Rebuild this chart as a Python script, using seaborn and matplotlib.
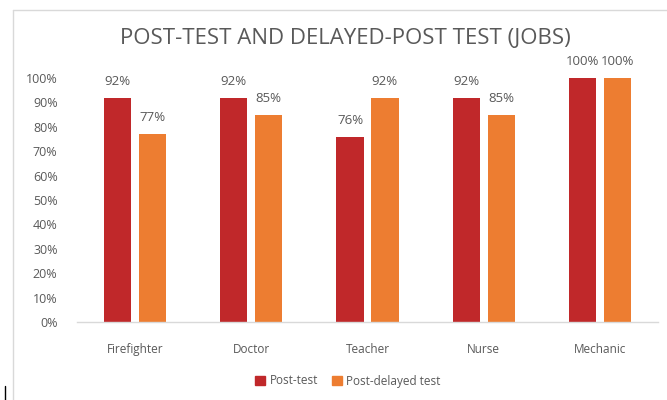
import pandas as pd
import matplotlib
import matplotlib.pyplot as plt
from matplotlib.patches import Rectangle
from matplotlib.lines import Line2D
import seaborn as sns

matplotlib.use('Agg')

jobs = ['Firefighter', 'Doctor', 'Teacher', 'Nurse', 'Mechanic']
post_test = [92, 92, 76, 92, 100]
post_delayed = [77, 85, 92, 85, 100]
series = ['Post-test', 'Post-delayed test']
colors = ['#C0282A', '#ED7D31']

df = pd.DataFrame({
    'job': jobs * 2,
    'score': post_test + post_delayed,
    'test': [series[0]] * len(jobs) + [series[1]] * len(jobs),
})

sns.set_style('white')
plt.rcParams['font.family'] = ['Open Sans', 'DejaVu Sans']

fig = plt.figure(figsize=(6.67, 4), dpi=100)
ax = fig.add_axes([77 / 667, 1 - 322 / 400, (658 - 77) / 667, 244 / 400])

sns.barplot(data=df, x='job', y='score', hue='test', palette=colors,
            saturation=1, linewidth=0, width=0.6, gap=0.22, ax=ax, legend=False)

grey = '#595959'
for cont in ax.containers:
    labels = ['%d%%' % v for v in cont.datavalues]
    ax.bar_label(cont, labels=labels, padding=7, fontsize=9.5, color=grey)

ax.set_ylim(0, 100)
ax.set_yticks(range(0, 101, 10))
ax.set_yticklabels(['%d%%' % t for t in range(0, 101, 10)])
ax.set_xlabel('')
ax.set_ylabel('')
ax.tick_params(axis='both', length=0, labelcolor=grey)
ax.tick_params(axis='x', pad=15, labelsize=8.5)
ax.tick_params(axis='y', pad=14, labelsize=9)
for s in ['top', 'right', 'left']:
    ax.spines[s].set_visible(False)
ax.spines['bottom'].set_color('#D9D9D9')
ax.spines['bottom'].set_linewidth(1)

fig.text(345 / 667, 1 - 38 / 400, 'POST-TEST AND DELAYED-POST TEST (JOBS)',
         ha='center', va='center', fontsize=16, color=grey)

handles = [Rectangle((0, 0), 1, 1, color=c) for c in colors]
fig.legend(handles, series, loc='center', bbox_to_anchor=(348 / 667, 1 - 381 / 400),
           ncol=2, frameon=False, fontsize=8.5, labelcolor=grey,
           handlelength=0.8, handleheight=0.8, handletextpad=0.4, columnspacing=1.2)

# chart frame
fig.add_artist(Line2D([13 / 667, 13 / 667], [0, 1 - 10 / 400], color='#D9D9D9', lw=1))
fig.add_artist(Line2D([13 / 667, 1], [1 - 10 / 400, 1 - 10 / 400], color='#D9D9D9', lw=1))
fig.add_artist(Line2D([5 / 667, 5 / 667], [0, 1 - 386 / 400], color='black', lw=1))

fig.savefig('out.png', dpi=100)
